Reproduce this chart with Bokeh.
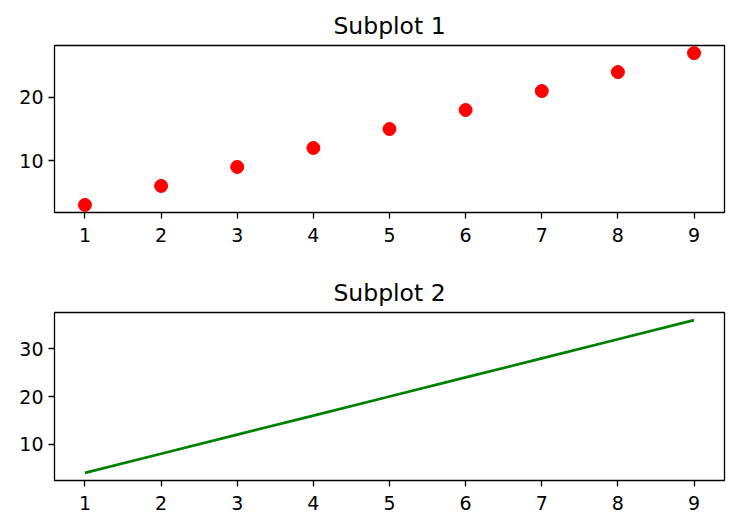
from bokeh.plotting import figure
from bokeh.layouts import column
from bokeh.models import Range1d, FixedTicker
from bokeh.embed import file_html
from bokeh.resources import INLINE

x_values = [1, 2, 3, 4, 5, 6, 7, 8, 9]
scatter_y = [3, 6, 9, 12, 15, 18, 21, 24, 27]
line_y = [4, 8, 12, 16, 20, 24, 28, 32, 36]
x_ticks = [1, 2, 3, 4, 5, 6, 7, 8, 9]
y_ticks_1 = [10, 20]
y_ticks_2 = [10, 20, 30]
titles = ["Subplot 1", "Subplot 2"]

FONT = "DejaVu Sans"


def style(p, yticks):
    p.title.text_font = FONT
    p.title.text_font_size = "23.5px"
    p.title.text_font_style = "normal"
    p.title.align = "center"
    p.title.text_color = "black"
    p.title.standoff = 11
    p.outline_line_color = "black"
    p.outline_line_width = 1.3
    p.outline_line_alpha = 1.0
    p.xgrid.visible = False
    p.ygrid.visible = False
    for ax in (p.xaxis[0], p.yaxis[0]):
        ax.axis_line_color = None
        ax.major_tick_in = 0
        ax.major_tick_out = 6
        ax.major_tick_line_width = 1.3
        ax.major_tick_line_color = "black"
        ax.minor_tick_line_color = None
        ax.major_label_text_font = FONT
        ax.major_label_text_font_size = "19px"
        ax.major_label_text_color = "black"
    p.xaxis[0].ticker = FixedTicker(ticks=x_ticks)
    p.yaxis[0].ticker = FixedTicker(ticks=yticks)
    p.xaxis[0].major_label_standoff = 9
    p.yaxis[0].major_label_standoff = 5


p1 = figure(width=730, height=262, output_backend="svg", toolbar_location=None,
            title=titles[0], x_range=Range1d(0.6, 9.4), y_range=Range1d(1.8, 28.2),
            min_border_left=54, min_border_right=6, min_border_top=45, min_border_bottom=50)
p1.scatter(x_values, scatter_y, size=13, color="red", line_color="red")
style(p1, y_ticks_1)

p2 = figure(width=730, height=265, output_backend="svg", toolbar_location=None,
            title=titles[1], x_range=Range1d(0.6, 9.4), y_range=Range1d(2.4, 37.6),
            min_border_left=54, min_border_right=6, min_border_top=50, min_border_bottom=47)
p2.line(x_values, line_y, line_width=2.7, color="green")
style(p2, y_ticks_2)

layout = column(p1, p2, spacing=0)
open("out.html", "w").write(file_html(layout, INLINE))
